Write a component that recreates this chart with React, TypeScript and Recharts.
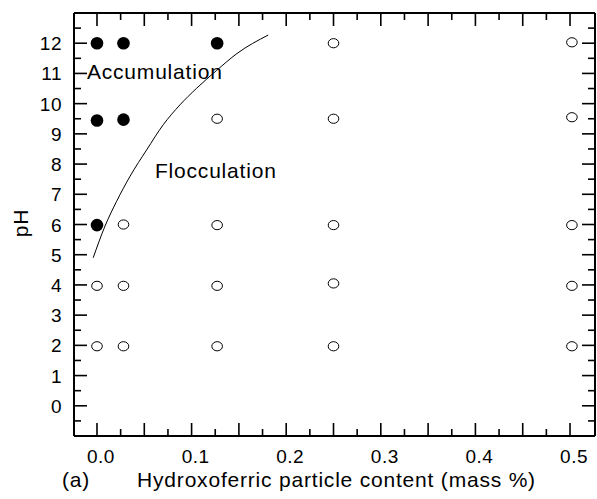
import {
  ReferenceDot,
  ReferenceLine,
  Scatter,
  ScatterChart,
  XAxis,
  YAxis,
} from 'recharts';

const FONT = '"Liberation Sans", Arial, Helvetica, sans-serif';

// aggregation (filled) and flocculation (open) observations
const filledX = [0, 0.028, 0.127, 0, 0.028, 0];
const filledY = [12, 12, 12, 9.44, 9.47, 5.98];

const openX = [0.028, 0.127, 0.25, 0.502, 0.127, 0.25, 0.502, 0.25, 0.502, 0, 0.028, 0.127, 0.25, 0.502, 0, 0.028, 0.127, 0.25, 0.502];
const openY = [6, 5.98, 5.98, 5.98, 9.5, 9.5, 9.55, 12, 12.03, 3.97, 3.97, 3.97, 4.05, 3.97, 1.97, 1.97, 1.97, 1.97, 1.97];

// boundary curve
const curveX = [-0.004, 0.0085, 0.0208, 0.035, 0.0525, 0.07, 0.0877, 0.105, 0.1265, 0.148, 0.181];
const curveY = [4.9, 5.95, 6.77, 7.6, 8.47, 9.3, 9.96, 10.5, 11.1, 11.66, 12.27];

const xTicks = [0, 0.025, 0.05, 0.075, 0.1, 0.125, 0.15, 0.175, 0.2, 0.225, 0.25, 0.275, 0.3, 0.325, 0.35, 0.375, 0.4, 0.425, 0.45, 0.475, 0.5];
const yTicks = [-0.5, 0, 0.5, 1, 1.5, 2, 2.5, 3, 3.5, 4, 4.5, 5, 5.5, 6, 6.5, 7, 7.5, 8, 8.5, 9, 9.5, 10, 10.5, 11, 11.5, 12, 12.5];

const X_DOMAIN: [number, number] = [-0.0243, 0.5264];
const Y_DOMAIN: [number, number] = [-1, 13];

const W = 597;
const H = 499;
const MARGIN = { top: 12, right: 1, bottom: 0, left: 0 };
const Y_AXIS_W = 74;
const X_AXIS_H = 63;
const PLOT_W = W - MARGIN.left - MARGIN.right - Y_AXIS_W - 1;
const PLOT_H = H - MARGIN.top - MARGIN.bottom - X_AXIS_H - 1;
const xPerPx = (X_DOMAIN[1] - X_DOMAIN[0]) / PLOT_W;
const yPerPx = (Y_DOMAIN[1] - Y_DOMAIN[0]) / PLOT_H;

const zip = (xs: number[], ys: number[]) => xs.map((x, i) => ({ x, y: ys[i] }));
const filled = zip(filledX, filledY);
const open = zip(openX, openY);
const curve = zip(curveX, curveY);

const isMult = (v: number, step: number) => Math.abs(v / step - Math.round(v / step)) < 1e-6;
const LONG = 13;
const SHORT = 7;

const xLabel = (props: any) => {
  const v = Number(props.payload.value);
  if (!isMult(v, 0.1)) return <g />;
  return (
    <text x={Number(props.x) + 4} y={Number(props.y) + 27} textAnchor="middle" fontSize={19} fontFamily={FONT} letterSpacing={0.5} fill="#000">
      {v.toFixed(1)}
    </text>
  );
};

const yLabel = (props: any) => {
  const v = Number(props.payload.value);
  if (!isMult(v, 1) || v < 0 || v > 12) return <g />;
  return (
    <text x={Number(props.x) - 12} y={Number(props.y) + 7} textAnchor="end" fontSize={19} fontFamily={FONT} letterSpacing={0.5} fill="#000">
      {v}
    </text>
  );
};

const FilledDot = (p: any) => <circle cx={p.cx} cy={p.cy} r={6.3} fill="#000" />;
const OpenDot = (p: any) => (
  <ellipse cx={p.cx} cy={p.cy} rx={5.3} ry={4.6} fill="#fff" stroke="#000" strokeWidth={1} />
);
const Nothing = () => <g />;

const annotation = (text: string) => (p: any) => (
  <text x={p.cx} y={p.cy} fontSize={21} letterSpacing={0.8} fontFamily={FONT} fill="#000">
    {text}
  </text>
);

const tickStyle = { stroke: '#000', strokeWidth: 1.6 };

export default function App() {
  const [x0, x1] = X_DOMAIN;
  const [y0, y1] = Y_DOMAIN;
  const xMarks = xTicks.map((v) => ({ v, len: isMult(v, 0.05) ? LONG : SHORT }));
  const yMarks = yTicks.map((v) => ({ v, len: isMult(v, 1) ? LONG : SHORT }));
  return (
    <div style={{ position: 'absolute', left: 0, top: 0, background: '#fff' }}>
      <ScatterChart width={W} height={H} margin={MARGIN}>
        <XAxis
          xAxisId="b"
          dataKey="x"
          type="number"
          domain={X_DOMAIN}
          allowDataOverflow
          ticks={xTicks}
          interval={0}
          height={X_AXIS_H}
          tickSize={0}
          tickMargin={0}
          tickLine={false}
          axisLine={{ stroke: '#000', strokeWidth: 2 }}
          tick={xLabel}
          label={{
            content: (lp: any) => {
              const vb = lp.viewBox;
              return (
                <g fontFamily={FONT} fontSize={21} letterSpacing={0.8} fill="#000">
                  <text x={76} y={487} textAnchor="middle">(a)</text>
                  <text x={vb.x + vb.width / 2 + 2} y={487} textAnchor="middle">
                    Hydroxoferric particle content (mass %)
                  </text>
                </g>
              );
            },
          }}
        />
        <XAxis
          xAxisId="t"
          orientation="top"
          dataKey="x"
          type="number"
          domain={X_DOMAIN}
          allowDataOverflow
          height={1}
          tick={false}
          tickLine={false}
          axisLine={{ stroke: '#000', strokeWidth: 2 }}
        />
        <YAxis
          yAxisId="l"
          dataKey="y"
          type="number"
          domain={Y_DOMAIN}
          allowDataOverflow
          ticks={yTicks}
          interval={0}
          width={Y_AXIS_W}
          tickSize={0}
          tickMargin={0}
          tickLine={false}
          axisLine={{ stroke: '#000', strokeWidth: 2 }}
          tick={yLabel}
          label={{
            content: () => (
              <text
                x={28}
                y={223}
                transform="rotate(-90, 28, 223)"
                textAnchor="middle"
                fontSize={21}
                letterSpacing={0.8}
                fontFamily={FONT}
                fill="#000"
              >
                pH
              </text>
            ),
          }}
        />
        <YAxis
          yAxisId="r"
          orientation="right"
          dataKey="y"
          type="number"
          domain={Y_DOMAIN}
          allowDataOverflow
          width={1}
          tick={false}
          tickLine={false}
          axisLine={{ stroke: '#000', strokeWidth: 2 }}
        />

        {xMarks.map(({ v, len }) => (
          <ReferenceLine
            key={`xb${v}`}
            xAxisId="b"
            yAxisId="l"
            ifOverflow="visible"
            segment={[{ x: v, y: y0 }, { x: v, y: y0 + len * yPerPx }]}
            {...tickStyle}
          />
        ))}
        {xMarks.map(({ v, len }) => (
          <ReferenceLine
            key={`xt${v}`}
            xAxisId="b"
            yAxisId="l"
            ifOverflow="visible"
            segment={[{ x: v, y: y1 }, { x: v, y: y1 - len * yPerPx }]}
            {...tickStyle}
          />
        ))}
        {yMarks.map(({ v, len }) => (
          <ReferenceLine
            key={`yl${v}`}
            xAxisId="b"
            yAxisId="l"
            ifOverflow="visible"
            segment={[{ x: x0, y: v }, { x: x0 + len * xPerPx, y: v }]}
            {...tickStyle}
          />
        ))}
        {yMarks.map(({ v, len }) => (
          <ReferenceLine
            key={`yr${v}`}
            xAxisId="b"
            yAxisId="l"
            ifOverflow="visible"
            segment={[{ x: x1, y: v }, { x: x1 - len * xPerPx, y: v }]}
            {...tickStyle}
          />
        ))}

        <Scatter
          xAxisId="b"
          yAxisId="l"
          data={curve}
          line={{ stroke: '#000', strokeWidth: 1 }}
          lineType="joint"
          lineJointType="monotoneX"
          shape={Nothing}
          isAnimationActive={false}
        />
        <Scatter xAxisId="b" yAxisId="l" data={open} shape={OpenDot} isAnimationActive={false} />
        <Scatter xAxisId="b" yAxisId="l" data={filled} shape={FilledDot} isAnimationActive={false} />
        <Scatter xAxisId="t" yAxisId="r" data={filled} shape={Nothing} isAnimationActive={false} />
        <ReferenceDot xAxisId="b" yAxisId="l" x={-0.0106} y={10.81} r={0} shape={annotation('Accumulation')} />
        <ReferenceDot xAxisId="b" yAxisId="l" x={0.0613} y={7.55} r={0} shape={annotation('Flocculation')} />
      </ScatterChart>
    </div>
  );
}
